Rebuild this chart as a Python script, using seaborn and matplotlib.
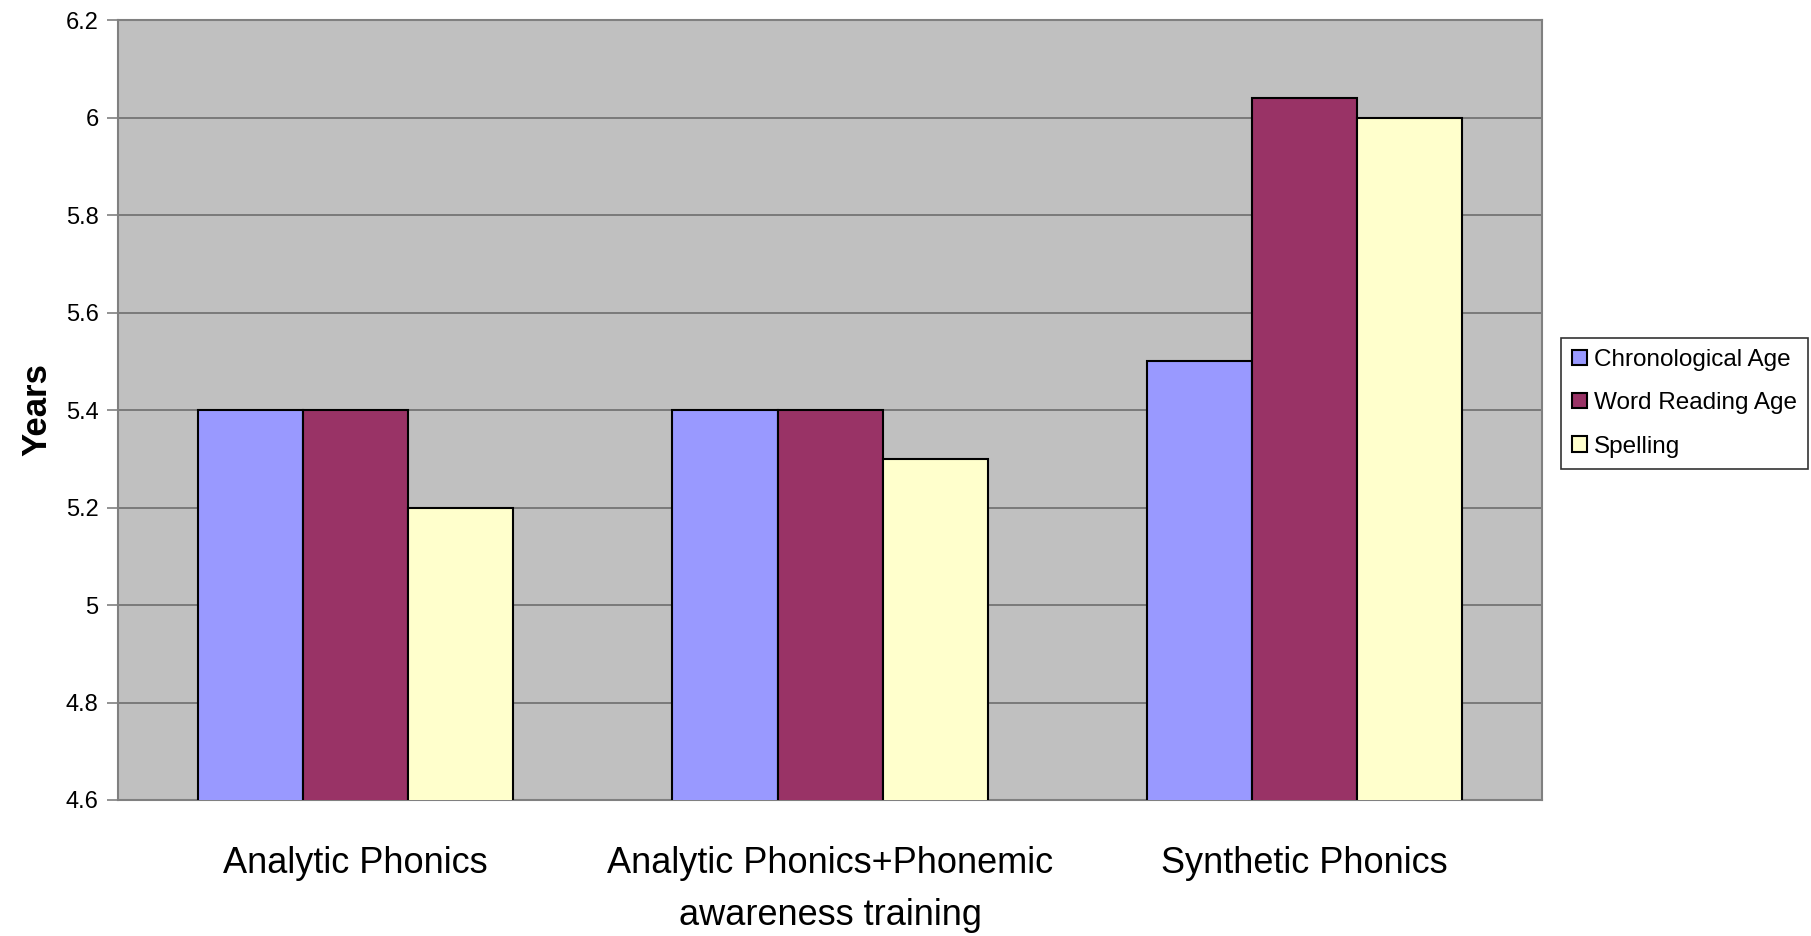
import pandas as pd
import matplotlib
matplotlib.use('Agg')
import matplotlib.pyplot as plt
import seaborn as sns

# data
groups = ['Analytic Phonics', 'Analytic Phonics+Phonemic\nawareness training', 'Synthetic Phonics']
chrono_age = [5.4, 5.4, 5.5]
word_reading_age = [5.4, 5.4, 6.04]
spelling = [5.2, 5.3, 6.0]
series = ['Chronological Age', 'Word Reading Age', 'Spelling']
colors = ['#9999FF', '#993366', '#FFFFCC']

df = pd.DataFrame({
    'Group': groups * 3,
    'Series': [series[0]] * 3 + [series[1]] * 3 + [series[2]] * 3,
    'Years': chrono_age + word_reading_age + spelling,
})

sns.set_style('white')
plt.rcParams['font.family'] = ['Liberation Sans', 'DejaVu Sans']
plt.rcParams['text.color'] = 'black'
plt.rcParams['axes.labelcolor'] = 'black'

fig = plt.figure(figsize=(18.11, 9.36), dpi=100)
ax = fig.add_axes([0.0652, 0.1453, 0.7863, 0.8333])
ax.set_facecolor('#C0C0C0')

sns.barplot(data=df, x='Group', y='Years', hue='Series', palette=colors,
            width=0.664, edgecolor='black', linewidth=1.5, saturation=1,
            ax=ax, legend=True, zorder=3)

ax.set_ylim(4.6, 6.2)
ax.set_xlim(-0.5, 2.5)
ax.set_yticks([4.6, 4.8, 5.0, 5.2, 5.4, 5.6, 5.8, 6.0, 6.2])
ax.set_yticklabels(['4.6', '4.8', '5', '5.2', '5.4', '5.6', '5.8', '6', '6.2'], fontsize=17)
ax.yaxis.grid(True, color='#6E6E6E', linewidth=1.2, zorder=1)
ax.set_axisbelow(True)

# category labels centered, ticks at group boundaries
ax.set_xticks([0, 1, 2])
ax.set_xticklabels(groups, fontsize=26, linespacing=1.62)
ax.tick_params(axis='x', which='major', length=0, pad=33, labelcolor='black')
ax.set_xticks([-0.5, 0.5, 1.5, 2.5], minor=True)
ax.tick_params(axis='x', which='minor', length=10, color='#808080', width=1.2)
ax.tick_params(axis='y', length=8, color='#808080', width=1.2, left=True, pad=6,
               labelcolor='black')

for s in ax.spines.values():
    s.set_color('#808080')
    s.set_linewidth(1.5)

ax.set_xlabel('')
ax.set_ylabel('Years', fontsize=25, fontweight='bold', labelpad=9)

handles, labels = ax.get_legend_handles_labels()
ax.get_legend().remove()
leg = fig.legend(handles, labels, loc='upper left', bbox_to_anchor=(0.862, 0.639),
                 fontsize=17.5, frameon=True, fancybox=False, edgecolor='black',
                 handlelength=0.6, handleheight=0.6, handletextpad=0.3,
                 labelspacing=0.88, borderpad=0.45, borderaxespad=0)
leg.get_frame().set_linewidth(1.2)

fig.savefig('out.png', dpi=100, facecolor='white')
